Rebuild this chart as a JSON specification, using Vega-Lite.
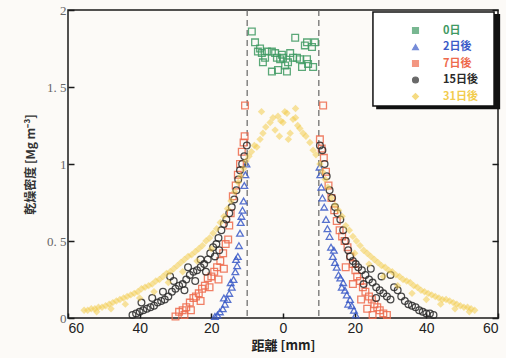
{
  "$schema": "https://vega.github.io/schema/vega-lite/v6.json",
  "width": 430,
  "height": 308,
  "autosize": "none",
  "padding": {"left": 68, "top": 10, "right": 8, "bottom": 40},
  "background": "#fcfaf7",
  "config": {
    "view": {"stroke": "#1a1a1a", "strokeWidth": 1.5},
    "axis": {"grid": false, "domain": false, "tickColor": "#1a1a1a", "tickWidth": 1.5}
  },
  "datasets": {
    "pts": [
      {"s": "0日", "x": -8.7, "y": 1.86}, {"s": "0日", "x": -7.8, "y": 1.79}, {"s": "0日", "x": -7.0, "y": 1.73},
      {"s": "0日", "x": -6.4, "y": 1.75}, {"s": "0日", "x": -5.9, "y": 1.72}, {"s": "0日", "x": -5.6, "y": 1.66},
      {"s": "0日", "x": -5.0, "y": 1.69}, {"s": "0日", "x": -4.5, "y": 1.73}, {"s": "0日", "x": -3.1, "y": 1.73},
      {"s": "0日", "x": -3.1, "y": 1.60}, {"s": "0日", "x": -2.2, "y": 1.72}, {"s": "0日", "x": -1.7, "y": 1.69},
      {"s": "0日", "x": -1.4, "y": 1.61}, {"s": "0日", "x": -0.8, "y": 1.68}, {"s": "0日", "x": -0.3, "y": 1.71},
      {"s": "0日", "x": 0.0, "y": 1.69}, {"s": "0日", "x": 0.6, "y": 1.64}, {"s": "0日", "x": 1.1, "y": 1.60},
      {"s": "0日", "x": 1.4, "y": 1.66}, {"s": "0日", "x": 2.0, "y": 1.72}, {"s": "0日", "x": 2.8, "y": 1.69},
      {"s": "0日", "x": 3.4, "y": 1.82}, {"s": "0日", "x": 3.9, "y": 1.69}, {"s": "0日", "x": 4.7, "y": 1.68},
      {"s": "0日", "x": 5.3, "y": 1.63}, {"s": "0日", "x": 6.1, "y": 1.77}, {"s": "0日", "x": 6.7, "y": 1.68},
      {"s": "0日", "x": 6.7, "y": 1.79}, {"s": "0日", "x": 7.0, "y": 1.65}, {"s": "0日", "x": 8.1, "y": 1.76},
      {"s": "0日", "x": 8.4, "y": 1.63}, {"s": "0日", "x": 8.9, "y": 1.79},

      {"s": "31日後", "x": -9.5, "y": 1.05}, {"s": "31日後", "x": -8.8, "y": 1.08}, {"s": "31日後", "x": -8.0, "y": 1.12},
      {"s": "31日後", "x": -7.3, "y": 1.11}, {"s": "31日後", "x": -6.4, "y": 1.16}, {"s": "31日後", "x": -6.0, "y": 1.34},
      {"s": "31日後", "x": -5.6, "y": 1.20}, {"s": "31日後", "x": -4.8, "y": 1.24}, {"s": "31日後", "x": -3.6, "y": 1.27},
      {"s": "31日後", "x": -2.8, "y": 1.30}, {"s": "31日後", "x": -2.2, "y": 1.22}, {"s": "31日後", "x": -1.4, "y": 1.31},
      {"s": "31日後", "x": -1.0, "y": 1.18}, {"s": "31日後", "x": -0.6, "y": 1.28}, {"s": "31日後", "x": 0.0, "y": 1.27},
      {"s": "31日後", "x": 0.5, "y": 1.34}, {"s": "31日後", "x": 1.1, "y": 1.33}, {"s": "31日後", "x": 1.5, "y": 1.16},
      {"s": "31日後", "x": 2.0, "y": 1.20}, {"s": "31日後", "x": 2.8, "y": 1.29}, {"s": "31日後", "x": 3.5, "y": 1.30},
      {"s": "31日後", "x": 3.5, "y": 1.36}, {"s": "31日後", "x": 4.1, "y": 1.25}, {"s": "31日後", "x": 4.7, "y": 1.23},
      {"s": "31日後", "x": 5.6, "y": 1.20}, {"s": "31日後", "x": 6.4, "y": 1.18}, {"s": "31日後", "x": 7.5, "y": 1.14},
      {"s": "31日後", "x": 8.4, "y": 1.09}, {"s": "31日後", "x": 9.2, "y": 1.06},
      {"s": "31日後", "x": -10.3, "y": 1.02}, {"s": "31日後", "x": -11.0, "y": 0.97}, {"s": "31日後", "x": -11.8, "y": 0.92},
      {"s": "31日後", "x": -12.5, "y": 0.88}, {"s": "31日後", "x": -13.5, "y": 0.82}, {"s": "31日後", "x": -14.5, "y": 0.76},
      {"s": "31日後", "x": -15.5, "y": 0.71}, {"s": "31日後", "x": -16.5, "y": 0.66}, {"s": "31日後", "x": -17.5, "y": 0.62},
      {"s": "31日後", "x": -18.5, "y": 0.58}, {"s": "31日後", "x": -19.5, "y": 0.55}, {"s": "31日後", "x": -20.5, "y": 0.52},
      {"s": "31日後", "x": -21.5, "y": 0.50}, {"s": "31日後", "x": -22.5, "y": 0.47}, {"s": "31日後", "x": -23.5, "y": 0.45},
      {"s": "31日後", "x": -24.5, "y": 0.43}, {"s": "31日後", "x": -25.5, "y": 0.41}, {"s": "31日後", "x": -26.5, "y": 0.40},
      {"s": "31日後", "x": -27.5, "y": 0.38}, {"s": "31日後", "x": -28.5, "y": 0.36}, {"s": "31日後", "x": -29.5, "y": 0.34},
      {"s": "31日後", "x": -30.5, "y": 0.32}, {"s": "31日後", "x": -31.5, "y": 0.30}, {"s": "31日後", "x": -32.5, "y": 0.29},
      {"s": "31日後", "x": -33.5, "y": 0.27}, {"s": "31日後", "x": -34.5, "y": 0.25}, {"s": "31日後", "x": -35.5, "y": 0.24},
      {"s": "31日後", "x": -36.5, "y": 0.22}, {"s": "31日後", "x": -37.5, "y": 0.21}, {"s": "31日後", "x": -38.5, "y": 0.20},
      {"s": "31日後", "x": -39.5, "y": 0.19}, {"s": "31日後", "x": -40.5, "y": 0.17}, {"s": "31日後", "x": -41.5, "y": 0.16},
      {"s": "31日後", "x": -42.5, "y": 0.15}, {"s": "31日後", "x": -43.5, "y": 0.14}, {"s": "31日後", "x": -44.5, "y": 0.13},
      {"s": "31日後", "x": -45.5, "y": 0.12}, {"s": "31日後", "x": -46.5, "y": 0.11}, {"s": "31日後", "x": -47.5, "y": 0.10},
      {"s": "31日後", "x": -48.5, "y": 0.09}, {"s": "31日後", "x": -49.5, "y": 0.08}, {"s": "31日後", "x": -50.5, "y": 0.07},
      {"s": "31日後", "x": -51.5, "y": 0.07}, {"s": "31日後", "x": -52.5, "y": 0.06}, {"s": "31日後", "x": -53.5, "y": 0.06},
      {"s": "31日後", "x": -54.5, "y": 0.05}, {"s": "31日後", "x": -55.5, "y": 0.05},
      {"s": "31日後", "x": -20.0, "y": 0.45}, {"s": "31日後", "x": -24.0, "y": 0.37}, {"s": "31日後", "x": -28.0, "y": 0.30},
      {"s": "31日後", "x": -32.0, "y": 0.23}, {"s": "31日後", "x": -36.0, "y": 0.17}, {"s": "31日後", "x": -40.0, "y": 0.13},
      {"s": "31日後", "x": -44.0, "y": 0.09}, {"s": "31日後", "x": -48.0, "y": 0.06}, {"s": "31日後", "x": -52.0, "y": 0.04},
      {"s": "31日後", "x": 10.3, "y": 1.00}, {"s": "31日後", "x": 11.0, "y": 0.95}, {"s": "31日後", "x": 11.8, "y": 0.90},
      {"s": "31日後", "x": 12.5, "y": 0.85}, {"s": "31日後", "x": 13.5, "y": 0.78}, {"s": "31日後", "x": 14.5, "y": 0.73},
      {"s": "31日後", "x": 15.5, "y": 0.70}, {"s": "31日後", "x": 16.5, "y": 0.66}, {"s": "31日後", "x": 17.5, "y": 0.60},
      {"s": "31日後", "x": 18.5, "y": 0.57}, {"s": "31日後", "x": 19.5, "y": 0.53}, {"s": "31日後", "x": 20.5, "y": 0.50},
      {"s": "31日後", "x": 21.5, "y": 0.47}, {"s": "31日後", "x": 22.5, "y": 0.44}, {"s": "31日後", "x": 23.5, "y": 0.42},
      {"s": "31日後", "x": 24.5, "y": 0.40}, {"s": "31日後", "x": 25.5, "y": 0.38}, {"s": "31日後", "x": 26.5, "y": 0.36},
      {"s": "31日後", "x": 27.5, "y": 0.34}, {"s": "31日後", "x": 28.5, "y": 0.33}, {"s": "31日後", "x": 29.5, "y": 0.31},
      {"s": "31日後", "x": 30.5, "y": 0.30}, {"s": "31日後", "x": 31.5, "y": 0.28}, {"s": "31日後", "x": 32.5, "y": 0.27},
      {"s": "31日後", "x": 33.5, "y": 0.25}, {"s": "31日後", "x": 34.5, "y": 0.24}, {"s": "31日後", "x": 35.5, "y": 0.23},
      {"s": "31日後", "x": 36.5, "y": 0.21}, {"s": "31日後", "x": 37.5, "y": 0.20}, {"s": "31日後", "x": 38.5, "y": 0.18},
      {"s": "31日後", "x": 39.5, "y": 0.17}, {"s": "31日後", "x": 40.5, "y": 0.16}, {"s": "31日後", "x": 41.5, "y": 0.15},
      {"s": "31日後", "x": 42.5, "y": 0.14}, {"s": "31日後", "x": 43.5, "y": 0.13}, {"s": "31日後", "x": 44.5, "y": 0.12},
      {"s": "31日後", "x": 45.5, "y": 0.12}, {"s": "31日後", "x": 46.5, "y": 0.11}, {"s": "31日後", "x": 47.5, "y": 0.10},
      {"s": "31日後", "x": 48.5, "y": 0.09}, {"s": "31日後", "x": 49.5, "y": 0.08}, {"s": "31日後", "x": 50.5, "y": 0.07},
      {"s": "31日後", "x": 51.5, "y": 0.07}, {"s": "31日後", "x": 52.5, "y": 0.06}, {"s": "31日後", "x": 53.5, "y": 0.05},
      {"s": "31日後", "x": 20.0, "y": 0.42}, {"s": "31日後", "x": 24.0, "y": 0.35}, {"s": "31日後", "x": 28.0, "y": 0.27},
      {"s": "31日後", "x": 32.0, "y": 0.21}, {"s": "31日後", "x": 36.0, "y": 0.16}, {"s": "31日後", "x": 40.0, "y": 0.12},
      {"s": "31日後", "x": 44.0, "y": 0.09}, {"s": "31日後", "x": 48.0, "y": 0.06}, {"s": "31日後", "x": 52.0, "y": 0.04},

      {"s": "2日後", "x": -10.2, "y": 1.00}, {"s": "2日後", "x": -10.5, "y": 0.93}, {"s": "2日後", "x": -10.8, "y": 0.86},
      {"s": "2日後", "x": -11.0, "y": 0.76}, {"s": "2日後", "x": -11.3, "y": 0.70}, {"s": "2日後", "x": -11.6, "y": 0.66},
      {"s": "2日後", "x": -11.8, "y": 0.62}, {"s": "2日後", "x": -12.0, "y": 0.55}, {"s": "2日後", "x": -12.3, "y": 0.47},
      {"s": "2日後", "x": -12.6, "y": 0.40}, {"s": "2日後", "x": -12.8, "y": 0.34}, {"s": "2日後", "x": -13.1, "y": 0.38},
      {"s": "2日後", "x": -13.3, "y": 0.30}, {"s": "2日後", "x": -13.8, "y": 0.25}, {"s": "2日後", "x": -14.3, "y": 0.20},
      {"s": "2日後", "x": -14.6, "y": 0.23}, {"s": "2日後", "x": -15.0, "y": 0.16}, {"s": "2日後", "x": -15.5, "y": 0.12},
      {"s": "2日後", "x": -16.2, "y": 0.09}, {"s": "2日後", "x": -16.5, "y": 0.13}, {"s": "2日後", "x": -16.8, "y": 0.06},
      {"s": "2日後", "x": -17.6, "y": 0.04}, {"s": "2日後", "x": -18.3, "y": 0.02}, {"s": "2日後", "x": -19.0, "y": 0.01},
      {"s": "2日後", "x": 10.2, "y": 0.98}, {"s": "2日後", "x": 10.4, "y": 0.93}, {"s": "2日後", "x": 10.7, "y": 0.85},
      {"s": "2日後", "x": 11.0, "y": 0.78}, {"s": "2日後", "x": 11.5, "y": 0.72}, {"s": "2日後", "x": 12.0, "y": 0.64},
      {"s": "2日後", "x": 12.4, "y": 0.58}, {"s": "2日後", "x": 13.0, "y": 0.53}, {"s": "2日後", "x": 13.4, "y": 0.46},
      {"s": "2日後", "x": 13.9, "y": 0.40}, {"s": "2日後", "x": 14.2, "y": 0.44}, {"s": "2日後", "x": 14.5, "y": 0.36},
      {"s": "2日後", "x": 15.0, "y": 0.33}, {"s": "2日後", "x": 15.5, "y": 0.28}, {"s": "2日後", "x": 16.0, "y": 0.26},
      {"s": "2日後", "x": 16.4, "y": 0.20}, {"s": "2日後", "x": 16.8, "y": 0.23}, {"s": "2日後", "x": 17.3, "y": 0.18},
      {"s": "2日後", "x": 17.8, "y": 0.15}, {"s": "2日後", "x": 18.2, "y": 0.09}, {"s": "2日後", "x": 18.7, "y": 0.12},
      {"s": "2日後", "x": 19.2, "y": 0.08}, {"s": "2日後", "x": 19.8, "y": 0.05}, {"s": "2日後", "x": 20.3, "y": 0.02},

      {"s": "7日後", "x": -10.6, "y": 1.38}, {"s": "7日後", "x": -10.7, "y": 1.18}, {"s": "7日後", "x": -11.0, "y": 1.14},
      {"s": "7日後", "x": -11.5, "y": 1.08}, {"s": "7日後", "x": -12.0, "y": 1.00}, {"s": "7日後", "x": -12.6, "y": 0.93},
      {"s": "7日後", "x": -13.2, "y": 0.86}, {"s": "7日後", "x": -14.0, "y": 0.79}, {"s": "7日後", "x": -14.6, "y": 0.68},
      {"s": "7日後", "x": -15.0, "y": 0.60}, {"s": "7日後", "x": -15.3, "y": 0.51}, {"s": "7日後", "x": -16.0, "y": 0.48},
      {"s": "7日後", "x": -16.5, "y": 0.32}, {"s": "7日後", "x": -16.7, "y": 0.42}, {"s": "7日後", "x": -17.5, "y": 0.37},
      {"s": "7日後", "x": -18.0, "y": 0.25}, {"s": "7日後", "x": -18.4, "y": 0.33}, {"s": "7日後", "x": -19.2, "y": 0.30},
      {"s": "7日後", "x": -20.0, "y": 0.27}, {"s": "7日後", "x": -20.5, "y": 0.20}, {"s": "7日後", "x": -21.0, "y": 0.26},
      {"s": "7日後", "x": -21.8, "y": 0.21}, {"s": "7日後", "x": -22.6, "y": 0.19}, {"s": "7日後", "x": -23.0, "y": 0.11},
      {"s": "7日後", "x": -23.5, "y": 0.16}, {"s": "7日後", "x": -24.3, "y": 0.14}, {"s": "7日後", "x": -25.0, "y": 0.13},
      {"s": "7日後", "x": -25.7, "y": 0.05}, {"s": "7日後", "x": -26.0, "y": 0.10}, {"s": "7日後", "x": -27.0, "y": 0.07},
      {"s": "7日後", "x": -27.5, "y": 0.02}, {"s": "7日後", "x": -28.0, "y": 0.05}, {"s": "7日後", "x": -29.0, "y": 0.04},
      {"s": "7日後", "x": -30.0, "y": 0.01},
      {"s": "7日後", "x": 11.2, "y": 1.38}, {"s": "7日後", "x": 10.3, "y": 1.16}, {"s": "7日後", "x": 10.8, "y": 1.10},
      {"s": "7日後", "x": 11.4, "y": 1.04}, {"s": "7日後", "x": 12.0, "y": 0.95}, {"s": "7日後", "x": 12.7, "y": 0.86},
      {"s": "7日後", "x": 13.5, "y": 0.78}, {"s": "7日後", "x": 14.3, "y": 0.70}, {"s": "7日後", "x": 15.0, "y": 0.63},
      {"s": "7日後", "x": 15.8, "y": 0.57}, {"s": "7日後", "x": 16.5, "y": 0.53}, {"s": "7日後", "x": 17.2, "y": 0.50},
      {"s": "7日後", "x": 17.5, "y": 0.33}, {"s": "7日後", "x": 18.0, "y": 0.46}, {"s": "7日後", "x": 18.8, "y": 0.40},
      {"s": "7日後", "x": 19.5, "y": 0.35}, {"s": "7日後", "x": 19.5, "y": 0.22}, {"s": "7日後", "x": 20.2, "y": 0.31},
      {"s": "7日後", "x": 20.7, "y": 0.27}, {"s": "7日後", "x": 21.5, "y": 0.24}, {"s": "7日後", "x": 21.8, "y": 0.12},
      {"s": "7日後", "x": 22.3, "y": 0.20}, {"s": "7日後", "x": 23.0, "y": 0.17}, {"s": "7日後", "x": 23.5, "y": 0.06},
      {"s": "7日後", "x": 24.0, "y": 0.14}, {"s": "7日後", "x": 24.8, "y": 0.12}, {"s": "7日後", "x": 25.0, "y": 0.02},
      {"s": "7日後", "x": 25.5, "y": 0.09}, {"s": "7日後", "x": 26.3, "y": 0.07}, {"s": "7日後", "x": 27.0, "y": 0.05},
      {"s": "7日後", "x": 28.0, "y": 0.03}, {"s": "7日後", "x": 29.0, "y": 0.02},

      {"s": "15日後", "x": -10.1, "y": 1.12}, {"s": "15日後", "x": -10.8, "y": 1.05}, {"s": "15日後", "x": -11.4, "y": 1.00},
      {"s": "15日後", "x": -12.0, "y": 0.96}, {"s": "15日後", "x": -12.5, "y": 0.90}, {"s": "15日後", "x": -13.0, "y": 0.83},
      {"s": "15日後", "x": -13.6, "y": 0.77}, {"s": "15日後", "x": -14.3, "y": 0.72}, {"s": "15日後", "x": -15.0, "y": 0.68},
      {"s": "15日後", "x": -15.8, "y": 0.64}, {"s": "15日後", "x": -16.5, "y": 0.61}, {"s": "15日後", "x": -17.2, "y": 0.57},
      {"s": "15日後", "x": -17.8, "y": 0.44}, {"s": "15日後", "x": -18.0, "y": 0.52}, {"s": "15日後", "x": -18.6, "y": 0.48},
      {"s": "15日後", "x": -19.0, "y": 0.40}, {"s": "15日後", "x": -19.5, "y": 0.46}, {"s": "15日後", "x": -20.3, "y": 0.42},
      {"s": "15日後", "x": -21.0, "y": 0.38}, {"s": "15日後", "x": -21.5, "y": 0.30}, {"s": "15日後", "x": -22.0, "y": 0.35},
      {"s": "15日後", "x": -23.0, "y": 0.33}, {"s": "15日後", "x": -23.0, "y": 0.38}, {"s": "15日後", "x": -24.0, "y": 0.31},
      {"s": "15日後", "x": -24.5, "y": 0.24}, {"s": "15日後", "x": -25.0, "y": 0.30}, {"s": "15日後", "x": -26.0, "y": 0.28},
      {"s": "15日後", "x": -26.5, "y": 0.33}, {"s": "15日後", "x": -27.0, "y": 0.25}, {"s": "15日後", "x": -27.5, "y": 0.18},
      {"s": "15日後", "x": -28.0, "y": 0.22}, {"s": "15日後", "x": -29.0, "y": 0.21}, {"s": "15日後", "x": -30.0, "y": 0.19},
      {"s": "15日後", "x": -30.5, "y": 0.24}, {"s": "15日後", "x": -31.0, "y": 0.17}, {"s": "15日後", "x": -31.5, "y": 0.27},
      {"s": "15日後", "x": -32.0, "y": 0.14}, {"s": "15日後", "x": -33.0, "y": 0.12}, {"s": "15日後", "x": -33.5, "y": 0.17},
      {"s": "15日後", "x": -34.0, "y": 0.11}, {"s": "15日後", "x": -35.0, "y": 0.10}, {"s": "15日後", "x": -36.0, "y": 0.08},
      {"s": "15日後", "x": -36.5, "y": 0.13}, {"s": "15日後", "x": -37.0, "y": 0.07}, {"s": "15日後", "x": -38.0, "y": 0.06},
      {"s": "15日後", "x": -39.0, "y": 0.05}, {"s": "15日後", "x": -39.5, "y": 0.10}, {"s": "15日後", "x": -40.0, "y": 0.04},
      {"s": "15日後", "x": -41.0, "y": 0.03}, {"s": "15日後", "x": -42.0, "y": 0.02},
      {"s": "15日後", "x": 10.3, "y": 1.12}, {"s": "15日後", "x": 11.0, "y": 1.09}, {"s": "15日後", "x": 11.6, "y": 1.00},
      {"s": "15日後", "x": 12.2, "y": 0.92}, {"s": "15日後", "x": 13.0, "y": 0.83}, {"s": "15日後", "x": 13.7, "y": 0.78},
      {"s": "15日後", "x": 14.5, "y": 0.72}, {"s": "15日後", "x": 15.2, "y": 0.68}, {"s": "15日後", "x": 16.0, "y": 0.64},
      {"s": "15日後", "x": 16.8, "y": 0.57}, {"s": "15日後", "x": 17.5, "y": 0.50}, {"s": "15日後", "x": 18.2, "y": 0.44},
      {"s": "15日後", "x": 18.7, "y": 0.40}, {"s": "15日後", "x": 19.5, "y": 0.37}, {"s": "15日後", "x": 20.3, "y": 0.35},
      {"s": "15日後", "x": 21.0, "y": 0.33}, {"s": "15日後", "x": 22.0, "y": 0.31}, {"s": "15日後", "x": 22.5, "y": 0.22},
      {"s": "15日後", "x": 23.0, "y": 0.28}, {"s": "15日後", "x": 24.0, "y": 0.25}, {"s": "15日後", "x": 24.5, "y": 0.32},
      {"s": "15日後", "x": 25.0, "y": 0.23}, {"s": "15日後", "x": 26.0, "y": 0.20}, {"s": "15日後", "x": 26.0, "y": 0.13},
      {"s": "15日後", "x": 27.0, "y": 0.18}, {"s": "15日後", "x": 27.5, "y": 0.27}, {"s": "15日後", "x": 28.0, "y": 0.16},
      {"s": "15日後", "x": 29.0, "y": 0.14}, {"s": "15日後", "x": 30.0, "y": 0.12}, {"s": "15日後", "x": 30.0, "y": 0.28},
      {"s": "15日後", "x": 31.0, "y": 0.20}, {"s": "15日後", "x": 32.0, "y": 0.18}, {"s": "15日後", "x": 33.0, "y": 0.14},
      {"s": "15日後", "x": 34.0, "y": 0.11}, {"s": "15日後", "x": 35.0, "y": 0.09}, {"s": "15日後", "x": 36.0, "y": 0.08},
      {"s": "15日後", "x": 37.0, "y": 0.07}, {"s": "15日後", "x": 38.0, "y": 0.05}, {"s": "15日後", "x": 39.0, "y": 0.04},
      {"s": "15日後", "x": 40.0, "y": 0.03}, {"s": "15日後", "x": 41.0, "y": 0.03}, {"s": "15日後", "x": 42.0, "y": 0.02}
    ],
    "edges": [{"x": -10}, {"x": 10}]
  },
  "resolve": {"axis": {"y": "independent"}},
  "layer": [
    {
      "description": "legend box drop shadow",
      "data": {"values": [{}]},
      "mark": {"type": "rect", "fill": "#111111", "clip": false},
      "encoding": {
        "x": {"datum": 26.0, "type": "quantitative", "scale": {"domain": [-60, 60], "nice": false, "zero": false},
          "axis": {
            "values": [-60, -50, -40, -30, -20, -10, 0, 10, 20, 30, 40, 50, 60],
            "labelExpr": "datum.value % 20 === 0 ? format(abs(datum.value), 'd') : ''",
            "tickSize": -5,
            "labelPadding": 8,
            "labelFont": "Liberation Sans",
            "labelFontSize": 14,
            "labelColor": "#222222",
            "title": "距離 [mm]",
            "titleFont": "Noto Sans CJK JP",
            "titleFontSize": 13,
            "titleFontWeight": "bold",
            "titleColor": "#222222",
            "titlePadding": 4
          }
        },
        "x2": {"datum": 60.6},
        "y": {"datum": 1.974, "type": "quantitative", "scale": {"domain": [0, 2], "nice": false, "zero": false},
          "axis": {
            "orient": "left",
            "values": [0, 0.5, 1, 1.5, 2],
            "labelExpr": "replace(format(datum.value, ''), '.', '. ')",
            "tickSize": -6,
            "labelPadding": 8,
            "labelFont": "Liberation Serif",
            "labelFontSize": 13,
            "labelColor": "#666666",
            "title": "乾燥密度 [Mg m⁻³]",
            "titleFont": "Noto Sans CJK JP",
            "titleFontSize": 12,
            "titleFontWeight": "bold",
            "titleColor": "#333333",
            "titlePadding": 9
          }
        },
        "y2": {"datum": 1.355}
      }
    },
    {
      "description": "legend box",
      "data": {"values": [{}]},
      "mark": {"type": "rect", "fill": "#ffffff", "stroke": "#111111", "strokeWidth": 1.5, "clip": false},
      "encoding": {
        "x": {"datum": 25.1, "type": "quantitative"},
        "x2": {"datum": 58.9},
        "y": {"datum": 1.987, "type": "quantitative", "axis": {
          "orient": "right",
          "values": [0, 0.5, 1, 1.5, 2],
          "labels": false,
          "tickSize": -6,
          "title": null
        }},
        "y2": {"datum": 1.377}
      }
    },
    {
      "data": {"name": "edges"},
      "mark": {"type": "rule", "stroke": "#666666", "strokeWidth": 1.2, "strokeDash": [6, 4]},
      "encoding": {
        "x": {"field": "x", "type": "quantitative"}
      }
    },
    {
      "data": {"name": "pts"},
      "transform": [{"filter": "datum.s !== '31日後'"}],
      "mark": {"type": "point", "filled": false, "strokeWidth": 1.3, "opacity": 0.85, "size": 45},
      "encoding": {
        "x": {"field": "x", "type": "quantitative"},
        "y": {"field": "y", "type": "quantitative", "axis": null},
        "color": {"field": "s", "type": "nominal",
          "scale": {"domain": ["0日", "2日後", "7日後", "15日後", "31日後"], "range": ["#3f9a63", "#3b5bc8", "#ee6a4c", "#2a2a2a", "#f2cc4e"]},
          "legend": {
            "title": null,
            "orient": "none",
            "legendX": 342,
            "legendY": 15,
            "padding": 0,
            "rowPadding": 4.5,
            "labelOffset": 22,
            "labelFont": "Noto Sans CJK JP",
            "labelFontWeight": "bold",
            "labelFontSize": 11,
            "labelColor": {"expr": "scale('color', datum.value)"},
            "symbolSize": 36,
            "symbolStrokeWidth": 1.1,
            "symbolOpacity": 0.7,
            "symbolFillColor": {"expr": "datum.value === '31日後' ? scale('color', datum.value) : 'transparent'"}
          }},
        "shape": {"field": "s", "type": "nominal",
          "scale": {"domain": ["0日", "2日後", "7日後", "15日後", "31日後"], "range": ["square", "triangle-up", "square", "circle", "diamond"]}}
      }
    },
    {
      "data": {"name": "pts"},
      "transform": [{"filter": "datum.s === '31日後'"}],
      "mark": {"type": "point", "filled": true, "opacity": 0.55, "size": 55},
      "encoding": {
        "x": {"field": "x", "type": "quantitative"},
        "y": {"field": "y", "type": "quantitative", "axis": null},
        "color": {"field": "s", "type": "nominal"},
        "shape": {"field": "s", "type": "nominal"}
      }
    }
  ]
}
